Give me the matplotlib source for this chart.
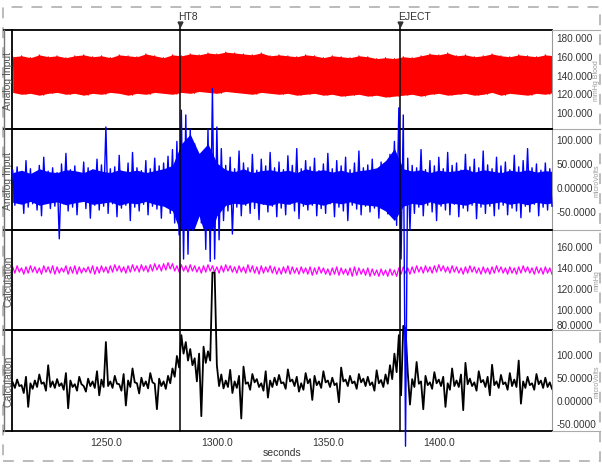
import matplotlib
matplotlib.use("Agg")
import matplotlib.pyplot as plt
from matplotlib.lines import Line2D
from matplotlib.patches import Rectangle

plt.rcParams['font.family'] = ['Liberation Sans', 'DejaVu Sans']

# time axis (seconds)
t_start = 1208.0
x_range = (1207.7, 1451.0)
x_ticks = [1250, 1300, 1350, 1400]
x_tick_labels = ['1250.0', '1300.0', '1350.0', '1400.0']

# comment markers
marker_times = [1283.3, 1382.4]
marker_names = ['HT8', 'EJECT']

# envelopes read every 4 s
env_step = 4.0
red_hi = [159, 160, 158, 161, 159, 160, 158, 160, 161, 159,
          160, 158, 161, 160, 159, 162, 160, 158, 161, 160,
          162, 161, 163, 162, 164, 163, 162, 161, 163, 160,
          161, 160, 159, 161, 160, 158, 160, 159, 158, 160,
          159, 157, 158, 157, 159, 158, 160, 162, 161, 163,
          160, 161, 159, 160, 162, 160, 159, 161, 160, 159, 161, 160]
red_lo = [121, 119, 120, 118, 120, 121, 119, 120, 118, 120,
          119, 121, 120, 118, 120, 119, 121, 120, 119, 121,
          120, 122, 121, 120, 122, 121, 120, 119, 121, 120,
          119, 120, 118, 119, 120, 118, 119, 117, 118, 119,
          117, 118, 116, 117, 118, 119, 117, 119, 120, 118,
          119, 120, 118, 119, 121, 118, 120, 119, 118, 120, 119, 121]
# dense core of the blue trace
blue_band_hi = [30, 35, 28, 38, 32, 30, 36, 34, 30, 38,
                33, 30, 36, 32, 35, 30, 34, 38, 45, 90,
                110, 70, 90, 50, 36, 32, 38, 30, 34, 36,
                32, 35, 30, 38, 33, 36, 31, 35, 30, 34,
                36, 40, 55, 80, 38, 33, 36, 30, 35, 32,
                34, 38, 31, 36, 33, 30, 35, 32, 36, 31, 34, 32]
blue_band_lo = [-32, -36, -30, -38, -34, -31, -37, -33, -30, -36,
                -34, -31, -38, -33, -35, -30, -36, -40, -50, -100,
                -110, -60, -120, -60, -38, -34, -36, -31, -35, -38,
                -33, -36, -31, -37, -34, -38, -32, -35, -31, -36,
                -38, -40, -50, -70, -40, -34, -37, -31, -36, -33,
                -35, -38, -32, -36, -34, -31, -36, -33, -37, -32, -35, -33]

# traces: peak (at t) and trough (at t+1) every 2 s
step = 2.0
blue_hi = [35, 42, 30, 55, 38, 28, 45, 62, 33, 40,
           30, 48, 70, 36, 44, 28, 52, 40, 35, 58,
           46, 125, 38, 42, 66, 30, 50, 72, 40, 34,
           55, 38, 60, 44, 50, 64, 78, 95,
           160, 150, 120, 90, 60, 70, 120, 205, 125, 80,
           45, 62, 38, 75, 50, 40, 68, 35, 58, 44, 72, 40,
           52, 36, 65, 45, 80, 38, 55, 42, 60, 34,
           48, 70, 38, 55, 44, 62, 36, 50, 75, 40,
           46, 58, 35, 52, 42, 68, 95, 165,
           150, 60, 45,
           40, 78, 36, 55, 44, 62, 38, 72, 45,
           50, 35, 68, 42, 58, 40, 75, 46, 38, 62,
           44, 52, 36, 66, 42, 55, 80, 40, 48, 35, 50, 38]
blue_lo = [-38, -30, -55, -42, -35, -48, -60, -32, -45, -40,
           -108, -35, -50, -42, -58, -30, -45, -65, -38, -48,
           -40, -55, -35, -62, -44, -38, -70, -42, -50, -36,
           -58, -40, -46, -65, -38, -55, -75, -100,
           -150, -140, -90, -60, -75, -130, -155, -150, -110, -70,
           -50, -98, -42, -60, -38, -55, -45, -68, -36, -52, -40, -62,
           -44, -58, -36, -50, -66, -40, -48, -38, -60, -45,
           -55, -35, -62, -42, -50, -70, -38, -46, -58, -40,
           -52, -44, -65, -38, -56, -42, -80, -150,
           -540, -90, -55,
           -42, -60, -38, -52, -70, -40, -48, -58, -36,
           -62, -44, -50, -38, -66, -42, -55, -40, -60, -46,
           -38, -58, -44, -50, -64, -40, -52, -36, -60, -42, -48, -40]

mag_hi = [140, 141, 139, 140, 141, 140, 139, 141, 140, 141,
          140, 139, 141, 140, 141, 140, 139, 140, 141, 140,
          141, 140, 141, 142, 141, 140, 141, 142, 141, 142,
          141, 142, 143, 142, 143, 144, 143, 141, 142, 141,
          142, 141, 140, 141, 142, 141, 140, 141, 142, 141,
          140, 141, 140, 142, 141, 140, 141, 140, 141, 140,
          139, 140, 141, 140, 139, 140, 139, 140, 139, 140,
          139, 138, 139, 140, 139, 138, 139, 140, 139, 138,
          139, 138, 137, 138, 137, 138, 137, 139, 140, 139,
          140, 141, 140, 141, 140, 141, 142, 141, 140, 141,
          140, 139, 140, 141, 140, 139, 140, 139, 140, 141,
          140, 139, 140, 139, 140, 141, 140, 139, 140, 139, 140, 139]
mag_lo = [134, 135, 133, 134, 135, 134, 133, 135, 134, 133,
          134, 135, 133, 134, 133, 134, 135, 134, 133, 134,
          135, 134, 135, 136, 135, 134, 135, 136, 135, 136,
          135, 136, 137, 136, 137, 138, 136, 135, 136, 135,
          136, 135, 134, 135, 136, 135, 134, 135, 136, 135,
          134, 135, 134, 135, 134, 133, 134, 135, 134, 133,
          133, 134, 133, 134, 133, 134, 133, 132, 133, 134,
          133, 132, 133, 132, 133, 132, 131, 132, 133, 132,
          131, 132, 131, 132, 131, 132, 131, 133, 134, 133,
          134, 135, 134, 135, 134, 135, 136, 135, 134, 135,
          134, 133, 134, 135, 134, 133, 134, 133, 134, 135,
          134, 133, 134, 133, 134, 135, 134, 133, 134, 133, 134, 133]

black_hi = [38, 44, 32, 50, 36, 42, 55, 38, 75, 40,
            45, 36, 58, 42, 34, 50, 30, 46, 40, 62,
            44, 125, 40, 52, 34, 56, 42, 68, 36, 48,
            40, 58, 35, 46, 40, 52, 68, 95,
            140, 125, 110, 90, 100, 115, 105, 275, 75, 55,
            42, 65, 40, 52, 72, 38, 56, 45, 36, 62, 42, 48,
            54, 38, 66, 44, 50, 36, 58, 45, 52, 40,
            62, 42, 48, 36, 70, 44, 52, 40, 56, 46,
            50, 38, 64, 43, 55, 75, 100, 140,
            160, 60, 45,
            82, 40, 52, 38, 60, 44, 50, 36, 68,
            42, 55, 80, 46, 38, 62, 43, 50, 76, 40,
            54, 38, 58, 44, 85, 40, 50, 36, 56, 42, 48, 38]
black_lo = [26, 30, 15, -15, 24, 28, 35, 20, 28, 26,
            30, 22, -18, 28, 20, 34, 18, 30, 26, 10,
            28, 30, 26, 35, 20, -12, 28, 38, 14, 30,
            25, 38, -20, 30, 24, 36, 50, 70,
            100, 85, 75, 40, -35, 80, 85, 275, 30, 25,
            28, 15, 26, -40, 35, 22, 38, 28, 20, 5, 28, 32,
            36, 24, 40, 30, 18, 22, 36, 0, 32, 26,
            38, 28, 32, -5, 40, 30, 36, 24, 38, 30,
            32, 20, 36, 28, 35, 45, 60, 10,
            155, -10, 28,
            35, -20, 32, 24, 36, 30, -15, 22, 30,
            28, -22, 34, 30, 20, 38, 28, 10, 32, 26,
            34, 22, 30, 28, -8, 26, 32, 22, 34, 26, 28, 24]

channel_names = ['Analog Input', 'Analog Input', 'Calculation', 'Calculation']
unit_names = ['mmHg Blood', 'microVolts', 'mmHg', 'microVolts']
y_ranges = [(82, 187.5), (-89.6, 120.8), (80, 175), (-67, 151)]
y_ticks = [[180, 160, 140, 120, 100],
           [100, 50, 0, -50],
           [160, 140, 120, 100, 80],
           [100, 50, 0, -50]]
y_tick_labels = [['180.000', '160.000', '140.000', '120.000', '100.000'],
                 ['100.000', '50.0000', '0.00000', '-50.0000'],
                 ['160.000', '140.000', '120.000', '100.000', '80.0000'],
                 ['100.000', '50.0000', '0.00000', '-50.0000']]


def zigzag(hi, lo, t0, dt):
    t, v = [], []
    for i, (a, b) in enumerate(zip(hi, lo)):
        t += [t0 + dt * i, t0 + dt * i + dt / 2]
        v += [a, b]
    return t, v


W, H = 602, 477
fig = plt.figure(figsize=(W / 100, H / 100), dpi=100)


def box(x0, y0, x1, y1):
    return [x0 / W, 1 - y1 / H, (x1 - x0) / W, (y1 - y0) / H]


rows = [(31, 130), (130, 231), (231, 331), (331, 432)]
axes = []
for k, (y0, y1) in enumerate(rows):
    ax = fig.add_axes(box(12, y0, 552, y1))
    ax.set_facecolor('none')
    ax.set_xlim(*x_range)
    ax.set_ylim(*y_ranges[k])
    ax.yaxis.tick_right()
    ax.set_yticks(y_ticks[k])
    ax.set_yticklabels(y_tick_labels[k], fontsize=7.2, color='#333333')
    ax.tick_params(axis='y', length=0, pad=3)
    ax.set_xticks(x_ticks)
    if k == 3:
        ax.set_xticklabels(x_tick_labels, fontsize=7.5, color='#333333')
        ax.tick_params(axis='x', length=0, pad=4)
        ax.set_xlabel('seconds', fontsize=7.5, color='#333333', labelpad=0)
    else:
        ax.set_xticklabels([])
        ax.tick_params(axis='x', length=0)
    for s in ['top', 'bottom', 'left']:
        ax.spines[s].set_linewidth(1.3)
        ax.spines[s].set_color('black')
    ax.spines['right'].set_color('#999999')
    ax.spines['right'].set_linewidth(0.8)
    # channel title in the left column, units in the narrow right column
    fig.text(8.5 / W, 1 - (y0 + y1) / 2 / H, channel_names[k], rotation=90,
             ha='center', va='center', fontsize=7.5, color='#555555')
    fig.text(597 / W, 1 - (y0 + y1) / 2 / H, unit_names[k], rotation=90,
             ha='center', va='center', fontsize=5, color='#999999')
    axes.append(ax)

# the lowest label of panel 3 sits above its tick
axes[2].get_yticklabels()[-1].set_va('bottom')

# traces
t_env = [t_start + env_step * i for i in range(len(red_hi))]
axes[0].fill_between(t_env, red_lo, red_hi, color='#ff0000', lw=0)
tz, vz = zigzag(red_hi, red_lo, t_start, env_step)
axes[0].plot(tz, vz, color='#ff0000', lw=0.8)

tz, vz = zigzag(mag_hi, mag_lo, t_start, step)
axes[2].plot(tz, vz, color='#ff00ff', lw=0.9)

tz, vz = zigzag(black_hi, black_lo, t_start, step)
axes[3].plot(tz, vz, color='black', lw=1.3, clip_on=False)

t_band = [t_start + env_step * i for i in range(len(blue_band_hi))]
axes[1].fill_between(t_band, blue_band_lo, blue_band_hi, color='#0000ff', lw=0)
tz, vz = zigzag(blue_hi, blue_lo, t_start, step)
axes[1].plot(tz, vz, color='#0000ff', lw=1.0, clip_on=False, zorder=5)
axes[1].set_zorder(5)

# overlay in pixel coordinates for markers
ov = fig.add_axes(box(12, 0, 552, H))
ov.set_xlim(*x_range)
ov.set_ylim(H, 0)
ov.axis('off')
ov.set_zorder(6)
for t, name in zip(marker_times, marker_names):
    ov.plot([t, t], [24, 432], color='black', lw=1.1)
    ov.plot([t], [25], marker='v', color='#333333', ms=3.5)
    ov.text(t - 0.8, 17, name, fontsize=7.5, color='#333333', ha='left', va='center')

# frame lines outside the plot area
for y in [31, 130, 231, 331, 432]:
    fig.add_artist(Line2D([4 / W, 12 / W], [1 - y / H] * 2, color='black', lw=1.3))
    fig.add_artist(Line2D([552 / W, 600 / W], [1 - y / H] * 2, color='#aaaaaa', lw=0.8))
fig.add_artist(Line2D([4 / W] * 2, [1 - 31 / H, 1 - 432 / H], color='#777777', lw=1.0))

# dashed outer border
fig.add_artist(Rectangle((3 / W, 1 - 462 / H), 597 / W, 454 / H, fill=False,
                         ec='#b5b5b5', lw=1.3, ls=(0, (6, 5))))

fig.savefig('out.png', dpi=100)
